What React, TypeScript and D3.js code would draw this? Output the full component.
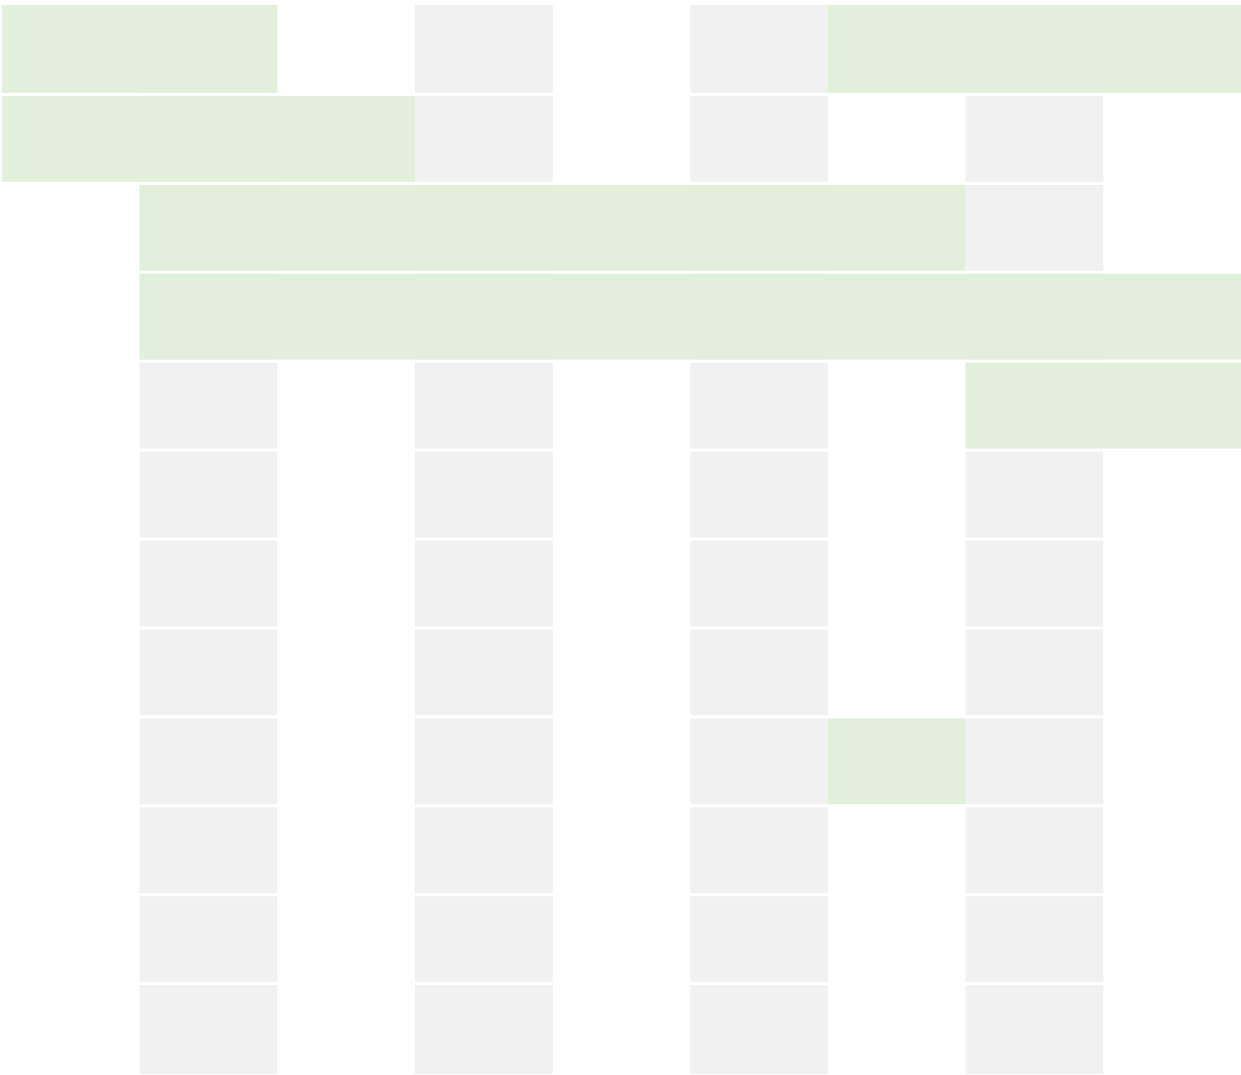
import React from 'react';
import * as d3 from 'd3';

const WIDTH = 1241;
const HEIGHT = 1075;

// rows of the grid, top to bottom
const rows = ['r1', 'r2', 'r3', 'r4', 'r5', 'r6', 'r7', 'r8', 'r9', 'r10', 'r11', 'r12'];
// grid columns (9 slots)
const columns = [0, 1, 2, 3, 4, 5, 6, 7, 8];
// shaded background columns
const shadedColumns = [1, 3, 5, 7];

// highlighted spans: row, first column, column after last
const spanRows = ['r1', 'r1', 'r2', 'r3', 'r4', 'r5', 'r9'];
const spanStarts = [0, 6, 0, 1, 1, 7, 6];
const spanEnds = [2, 9, 3, 7, 9, 9, 7];

const GRAY = '#f1f1f1';
const GREEN = '#e2efda';

export default function App() {
    const x = d3.scaleLinear()
        .domain([0, columns.length])
        .range([2, WIDTH]);

    const y = d3.scaleBand()
        .domain(rows)
        .range([7, 1071])
        .paddingInner(0.035);

    // first row sits a little higher, last row runs to the edge
    const top = r => (r === rows[0] ? y(r) - 2 : y(r));
    const h = r => {
        let v = y.bandwidth();
        if (r === rows[0]) v += 2;
        if (r === rows[rows.length - 1]) v += 3;
        return v;
    };

    const cells = [];
    for (const r of rows) {
        for (const c of shadedColumns) {
            cells.push({ row: r, col: c });
        }
    }

    const spans = spanRows.map((r, i) => ({ row: r, start: spanStarts[i], end: spanEnds[i] }));

    return (
        <svg
            width={WIDTH}
            height={HEIGHT}
            style={{ position: 'absolute', left: 0, top: 0, display: 'block' }}
        >
            <rect x={0} y={0} width={WIDTH} height={HEIGHT} fill='#ffffff' />
            <g className='background'>
                {cells.map(d => (
                    <rect
                        key={d.row + '-' + d.col}
                        x={x(d.col)}
                        y={top(d.row)}
                        width={x(d.col + 1) - x(d.col)}
                        height={h(d.row)}
                        fill={GRAY}
                    />
                ))}
            </g>
            <g className='spans'>
                {spans.map((d, i) => (
                    <rect
                        key={i}
                        x={x(d.start)}
                        y={top(d.row)}
                        width={x(d.end) - x(d.start)}
                        height={h(d.row)}
                        fill={GREEN}
                    />
                ))}
            </g>
        </svg>
    );
}
